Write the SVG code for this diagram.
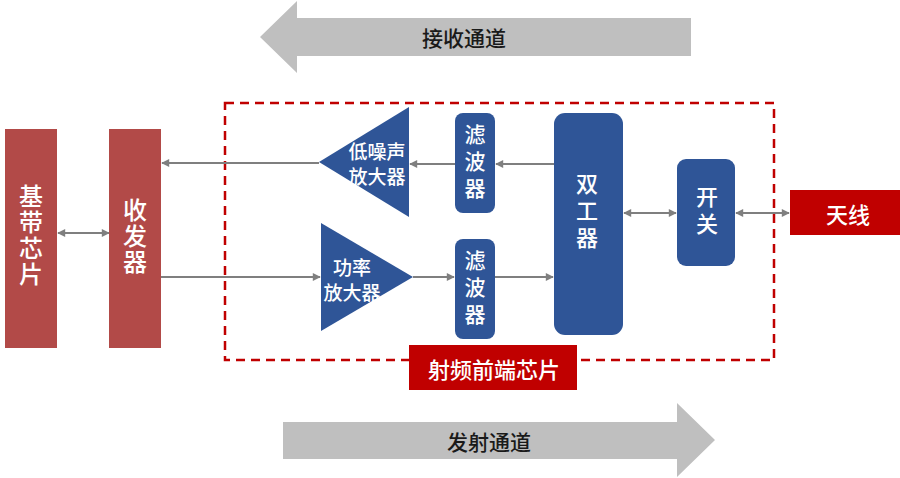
<svg xmlns="http://www.w3.org/2000/svg" width="900" height="478" viewBox="0 0 900 478">
<defs>
<marker id="ah" viewBox="0 0 10 10" refX="9" refY="5" markerWidth="9" markerHeight="8" markerUnits="userSpaceOnUse" orient="auto-start-reverse">
<path d="M0,0 L10,5 L0,10 Z" fill="#7F7F7F"/>
</marker>
</defs>
<style>
.t{font-family:"Noto Sans CJK SC","Noto Sans",sans-serif;text-anchor:middle;dominant-baseline:central;font-weight:500}
.v{font-family:"Noto Sans CJK SC","Noto Sans",sans-serif;text-anchor:middle;writing-mode:vertical-rl;font-weight:500}
.w{fill:#FFFFFF}
.k{fill:#1A1A1A}
.brown{fill:#B24A48}
.blue{fill:#2F5597}
.red{fill:#C00000}
.big{fill:#BFBFBF}
.c{stroke:#7F7F7F;stroke-width:2.2;fill:none}
</style>
<g id="rx-channel">
<polygon class="big" points="260,37 297,1 297,18 691,18 691,56 297,56 297,73"/>
<text class="t k" x="464" y="37" font-size="21">接收通道</text>
</g>
<g id="tx-channel">
<polygon class="big" points="283,422 677,422 677,403 715,440 677,477 677,459 283,459"/>
<text class="t k" x="489" y="441" font-size="21">发射通道</text>
</g>
<g id="rf-frontend">
<rect x="225" y="103" width="549" height="257" fill="none" stroke="#C00000" stroke-width="2.5" stroke-dasharray="9,6"/>
<rect class="red" x="409" y="345" width="168" height="45"/>
<text class="t w" x="494" y="368" font-size="22">射频前端芯片</text>
</g>
<g id="connectors">
<line class="c" x1="58" y1="233" x2="109" y2="233" marker-start="url(#ah)" marker-end="url(#ah)"/>
<line class="c" x1="319" y1="163" x2="162" y2="163" marker-end="url(#ah)"/>
<line class="c" x1="161" y1="277" x2="320" y2="277" marker-end="url(#ah)"/>
<line class="c" x1="455" y1="164" x2="410" y2="164" marker-end="url(#ah)"/>
<line class="c" x1="554" y1="164" x2="496" y2="164" marker-end="url(#ah)"/>
<line class="c" x1="413" y1="277" x2="454" y2="277" marker-end="url(#ah)"/>
<line class="c" x1="495" y1="277" x2="553" y2="277" marker-end="url(#ah)"/>
<line class="c" x1="624" y1="213" x2="676" y2="213" marker-start="url(#ah)" marker-end="url(#ah)"/>
<line class="c" x1="736" y1="213" x2="789" y2="213" marker-start="url(#ah)" marker-end="url(#ah)"/>
</g>
<g id="baseband">
<rect class="brown" x="5" y="129" width="52" height="219"/>
<text class="v w" x="31" y="236" font-size="24" letter-spacing="2">基带芯片</text>
</g>
<g id="transceiver">
<rect class="brown" x="109" y="129" width="52" height="219"/>
<text class="v w" x="135" y="237" font-size="24" letter-spacing="2">收发器</text>
</g>
<g id="lna">
<polygon class="blue" points="319,162 409,107 409,217"/>
<text class="t w" x="377" y="150" font-size="19">低噪声</text>
<text class="t w" x="377" y="175" font-size="19">放大器</text>
</g>
<g id="pa">
<polygon class="blue" points="321,223 413,277 321,331"/>
<text class="t w" x="352" y="266" font-size="19">功率</text>
<text class="t w" x="352" y="291" font-size="19">放大器</text>
</g>
<g id="filter-rx">
<rect class="blue" x="455" y="113" width="40" height="100" rx="8"/>
<text class="v w" x="475" y="164" font-size="21" letter-spacing="6">滤波器</text>
</g>
<g id="filter-tx">
<rect class="blue" x="455" y="239" width="40" height="100" rx="8"/>
<text class="v w" x="475" y="290" font-size="21" letter-spacing="6">滤波器</text>
</g>
<g id="duplexer">
<rect class="blue" x="554" y="113" width="69" height="222" rx="11"/>
<text class="v w" x="587" y="213" font-size="22" letter-spacing="5">双工器</text>
</g>
<g id="switch">
<rect class="blue" x="677" y="159" width="58" height="107" rx="9"/>
<text class="v w" x="707" y="213" font-size="22" letter-spacing="5">开关</text>
</g>
<g id="antenna">
<rect class="red" x="790" y="190" width="110" height="45"/>
<text class="t w" x="848" y="213" font-size="22">天线</text>
</g>
</svg>
